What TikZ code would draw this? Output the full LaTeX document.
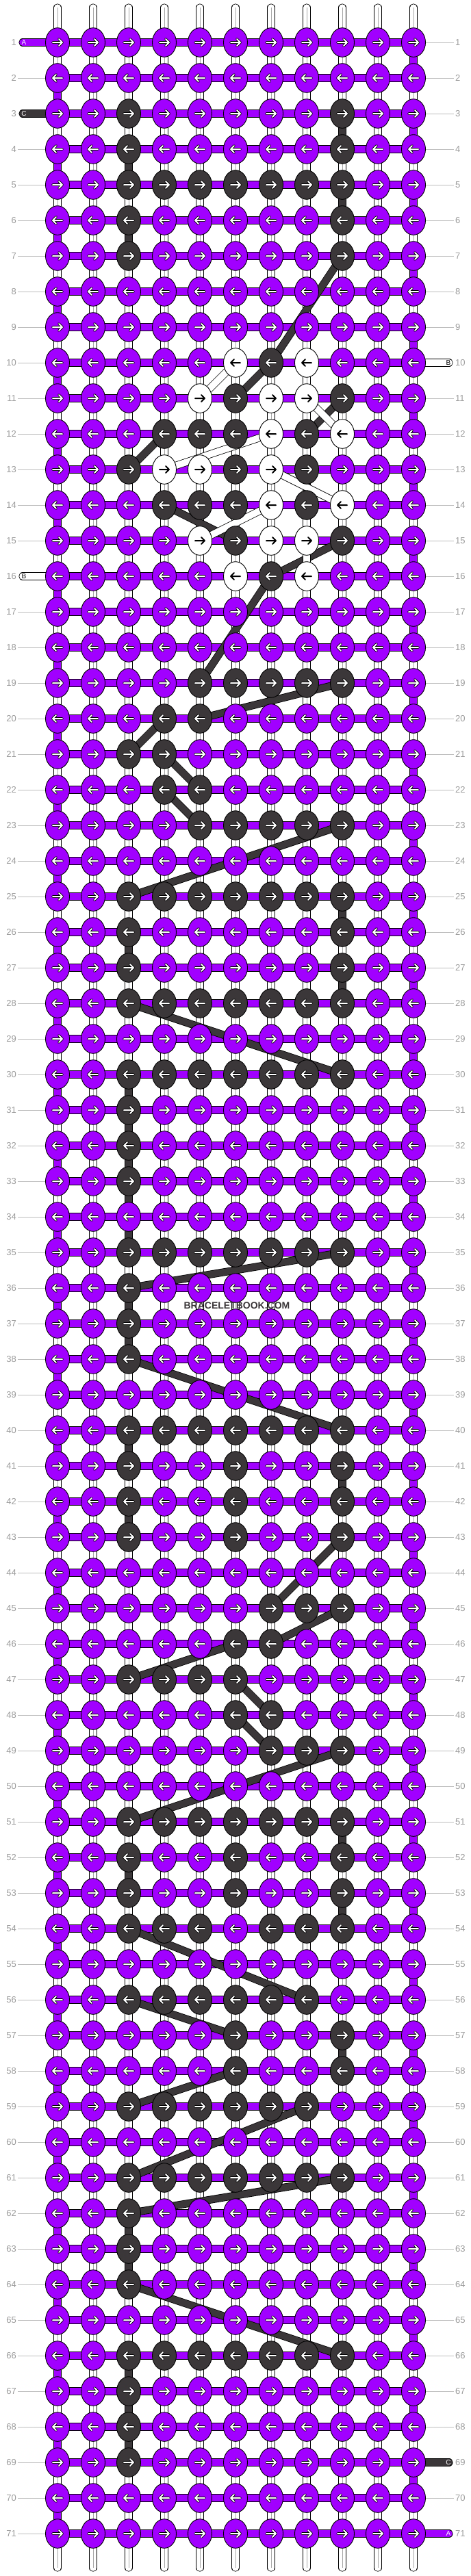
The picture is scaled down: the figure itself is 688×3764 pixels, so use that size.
\documentclass[tikz,border=0pt]{standalone}
\usepackage{fontspec}
\setmainfont{Liberation Sans}
\usetikzlibrary{shapes.geometric,backgrounds}

\definecolor{knotpurple}{HTML}{A100FF}
\definecolor{knotdark}{HTML}{3B3739}
\definecolor{rowgray}{HTML}{9B9B9B}
\definecolor{guidegray}{HTML}{BDBDBD}

\newcommand\knotarrow[2]{%
  \foreach \lw/\cl in {3.6pt/#2,2pt/#1}
  \draw[\cl,line width=\lw,line cap=round,line join=round]
    ([xshift={-7pt*(\arrdir)}]path picture bounding box.center)--([xshift={7pt*(\arrdir)}]path picture bounding box.center)
    ([xshift={2pt*(\arrdir)},yshift=5pt]path picture bounding box.center)--([xshift={7pt*(\arrdir)}]path picture bounding box.center)--([xshift={2pt*(\arrdir)},yshift=-5pt]path picture bounding box.center);}

\def\rowAll{A,A,A,A,A,A,A,A,A,A,A}
\def\rowTwo{A,A,C,A,A,A,A,A,C,A,A}
\def\rowBar{A,A,C,C,C,C,C,C,C,A,A}
\def\rowOne{A,A,C,A,A,A,A,A,A,A,A}
\def\rowThree{A,A,C,A,A,C,A,A,C,A,A}

\begin{document}
\begin{tikzpicture}[x=1pt,y=-1pt,
    knot/.style={ellipse,draw=black,line width=0.9pt,minimum width=35pt,minimum height=42.6pt,inner sep=0pt},
    knotA/.style={knot,fill=knotpurple,path picture={\knotarrow{white}{black}}},
    knotC/.style={knot,fill=knotdark,path picture={\knotarrow{white}{black}}},
    knotB/.style={knot,fill=white,path picture={\knotarrow{black}{white}}},
    thread/.style={line width=0.8pt,draw=black,double distance=9.6pt},
    threadA/.style={thread,double=knotpurple},
    threadB/.style={thread,double=white},
    threadC/.style={thread,double=knotdark},
    warp/.style={thread,double=white,line cap=round},
    guide/.style={guidegray,line width=0.9pt},
    rownum/.style={text=rowgray,font=\fontsize{13}{13}\selectfont,inner sep=2pt},
    stublabel/.style={font=\fontsize{10}{10}\selectfont,inner sep=0pt}]
\useasboundingbox (0,0) rectangle (688,3764);

% knots
\foreach \r/\row in {1/\rowAll,2/\rowAll,3/\rowTwo,4/\rowTwo,5/\rowBar,6/\rowTwo,7/\rowTwo,8/\rowAll,9/\rowAll,
    10/{A,A,A,A,A,B,C,B,A,A,A},11/{A,A,A,A,B,C,B,B,C,A,A},12/{A,A,A,C,C,C,B,C,B,A,A},
    13/{A,A,C,B,B,C,B,C,A,A,A},14/{A,A,A,C,C,C,B,C,B,A,A},15/{A,A,A,A,B,C,B,B,C,A,A},
    16/{A,A,A,A,A,B,C,B,A,A,A},17/\rowAll,18/\rowAll,
    19/{A,A,A,A,C,C,C,C,C,A,A},20/{A,A,A,C,C,A,A,A,A,A,A},21/{A,A,C,C,A,A,A,A,A,A,A},
    22/{A,A,A,C,C,A,A,A,A,A,A},23/{A,A,A,A,C,C,C,C,C,A,A},24/\rowAll,
    25/\rowBar,26/\rowTwo,27/\rowTwo,28/\rowBar,29/\rowAll,30/\rowBar,31/\rowOne,32/\rowOne,33/\rowOne,
    34/\rowAll,35/\rowBar,36/\rowOne,37/\rowOne,38/\rowOne,39/\rowAll,40/\rowBar,
    41/\rowThree,42/\rowThree,43/\rowThree,44/\rowAll,
    45/{A,A,A,A,A,A,C,C,C,A,A},46/{A,A,A,A,A,C,C,A,A,A,A},47/{A,A,C,C,C,C,A,A,A,A,A},
    48/{A,A,A,A,A,C,C,A,A,A,A},49/{A,A,A,A,A,A,C,C,C,A,A},50/\rowAll,
    51/\rowBar,52/\rowThree,53/\rowThree,54/{A,A,C,C,C,A,C,C,C,A,A},55/\rowAll,
    56/{A,A,C,C,C,C,C,C,A,A,A},57/{A,A,A,A,A,C,A,A,C,A,A},58/{A,A,A,A,A,C,A,A,C,A,A},
    59/{A,A,C,C,C,C,C,C,A,A,A},60/\rowAll,61/\rowBar,62/\rowOne,63/\rowOne,64/\rowOne,
    65/\rowAll,66/\rowBar,67/\rowOne,68/\rowOne,69/\rowOne,70/\rowAll,71/\rowAll}{
  \pgfmathtruncatemacro\arrdir{1-2*mod(\r+1,2)}
  \edef\rowlist{\row}
  \foreach \k [count=\c] in \rowlist
    \node[knot\k] (k-\r-\c) at ({84+52*(\c-1)},{62+52*(\r-1)}) {};
}

% row numbers
\foreach \r in {1,...,71}{
  \node[rownum,anchor=east] (nl-\r) at (26,{62+52*(\r-1)}) {\r};
  \node[rownum,anchor=west] (nr-\r) at (663,{62+52*(\r-1)}) {\r};
}

% loose ends
\coordinate (sa-in) at (33,62);
\coordinate (sc-in) at (33,166);
\coordinate (sb-out) at (33,842);
\coordinate (sb-in) at (656,530);
\coordinate (sc-out) at (656,3598);
\coordinate (sa-out) at (656,3702);
\node[stublabel,text=white] (la-in) at (35,62) {A};
\node[stublabel,text=white] (lc-in) at (35,166) {C};
\node[stublabel,text=black] (lb-out) at (35,842) {B};
\node[stublabel,text=black] (lb-in) at (655,530) {B};
\node[stublabel,text=white] (lc-out) at (655,3598) {C};
\node[stublabel,text=white] (la-out) at (655,3702) {A};

\node[font=\bfseries\fontsize{14}{14}\selectfont,text=knotdark] (mark) at (346,1908) {BRACELETBOOK.COM};

\begin{scope}[on background layer]
  \foreach \c in {1,...,11}{
    \coordinate (wt-\c) at ({84+52*(\c-1)},11);
    \coordinate (wb-\c) at ({84+52*(\c-1)},3752);
    \draw[warp] (wt-\c)--(wb-\c);
    \draw[gray!70,line width=0.7pt] (wt-\c)--(wb-\c);
  }
  \foreach \r in {2,4,5,...,15,17,18,...,71} \draw[guide] (nl-\r.east)--(k-\r-1.west);
  \foreach \r in {1,2,...,9,11,12,...,68,70} \draw[guide] (k-\r-11.east)--(nr-\r.west);

  \foreach \r [evaluate=\r as \s using int(\r+1)] in {1,3,...,69}
    \draw[threadA] (k-\r-11.center)--(k-\s-11.center);
  \foreach \r [evaluate=\r as \s using int(\r+1)] in {2,4,...,70}
    \draw[threadA] (k-\r-1.center)--(k-\s-1.center);
  \foreach \r in {1,...,71}
    \draw[threadA] (k-\r-1.center)--(k-\r-11.center);

  % dark thread
  \foreach \ra/\ca/\rb/\cb in {3/9/4/9,4/3/5/3,5/9/6/9,6/3/7/3,7/9/10/7,10/7/11/6,11/9/12/8,
      12/4/13/3,13/8/14/8,14/4/15/6,15/9/16/7,16/7/19/5,19/9/20/5,20/4/21/3,21/4/22/5,
      22/4/23/5,23/9/25/3,25/9/26/9,26/3/27/3,27/9/28/9,28/3/30/9,30/3/31/3,31/3/32/3,
      32/3/33/3,33/3/35/3,35/9/36/3,36/3/37/3,37/3/38/3,38/3/40/9,40/3/41/3,41/9/42/9,
      42/3/43/3,43/9/45/7,45/9/46/7,46/6/47/3,47/6/48/7,48/6/49/7,49/9/51/3,51/9/52/9,
      52/3/53/3,53/9/54/9,54/3/56/8,56/3/57/6,57/9/58/9,58/6/59/3,59/8/61/3,61/9/62/3,
      62/3/63/3,63/3/64/3,64/3/66/9,66/3/67/3,67/3/68/3,68/3/69/3}
    \draw[threadC] (k-\ra-\ca.center)--(k-\rb-\cb.center);
  % white thread
  \foreach \ra/\ca/\rb/\cb in {10/6/11/5,11/8/12/9,12/7/13/4,13/7/14/9,14/7/15/5,15/8/16/8}
    \draw[threadB] (k-\ra-\ca.center)--(k-\rb-\cb.center);

  \draw[threadA,line cap=round] (sa-in)--(k-1-1.center);
  \draw[threadC,line cap=round] (sc-in)--(k-3-1.center);
  \draw[threadB,line cap=round] (sb-out)--(k-16-1.center);
  \draw[threadB,line cap=round] (k-10-11.center)--(sb-in);
  \draw[threadC,line cap=round] (k-69-11.center)--(sc-out);
  \draw[threadA,line cap=round] (k-71-11.center)--(sa-out);
\end{scope}
\end{tikzpicture}
\end{document}
